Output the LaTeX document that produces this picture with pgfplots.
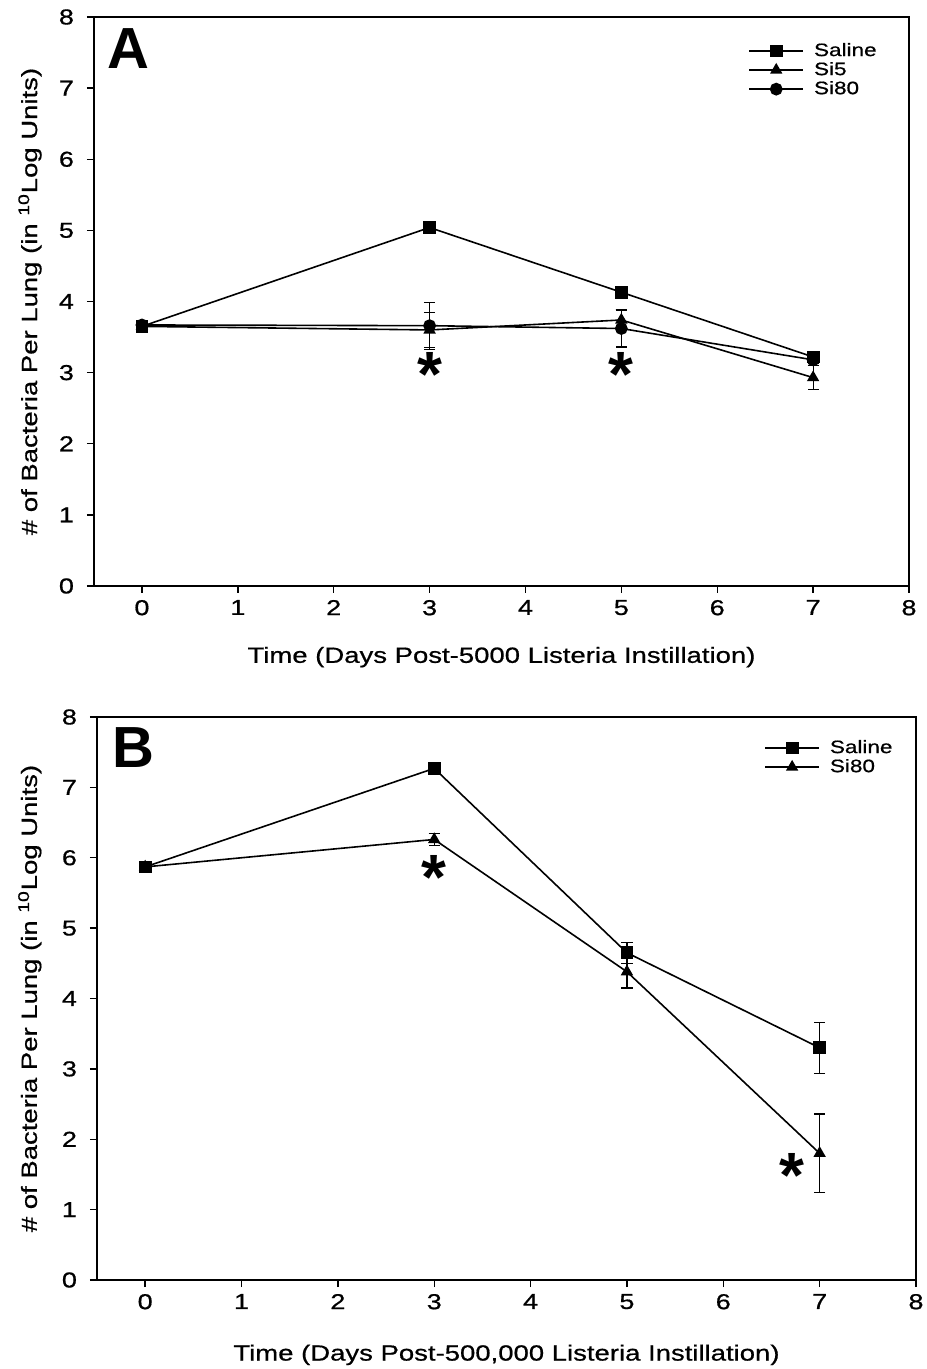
\documentclass[border=0pt]{standalone}
\usepackage{pgfplots}
\pgfplotsset{compat=1.18}
\usepackage{fontspec}
\setmainfont{Liberation Sans}[FakeStretch=1.25, FakeBold=0.7]
\newfontfamily\plainfont{Liberation Sans}

\tikzset{star/.style={font=\plainfont\fontsize{32}{32}\selectfont\bfseries, inner sep=0pt, anchor=center}}
\pgfplotsset{
  panel/.style={
    scale only axis,
    xmin=-0.5, xmax=8, ymin=0, ymax=8,
    xtick={0,...,8}, ytick={0,...,8},
    tick pos=left, tick align=outside, major tick length=3.5pt,
    axis line style={line width=0.8pt},
    every tick/.style={black, line width=0.7pt},
    /pgf/number format/assume math mode=true,
    ticklabel style={font=\fontsize{10.8}{12}\selectfont},
    yticklabel style={xshift=-3pt},
    legend style={draw=none, fill=none, font=\fontsize{9}{10}\selectfont, row sep=-2.5pt, column sep=3pt, cells={anchor=west}},
    legend image code/.code={\draw[##1, mark repeat=2, mark phase=2] plot coordinates {(0pt,0pt) (13.5pt,0pt) (27pt,0pt)};},
  },
  ser/.style={black, line width=0.8pt, mark=#1, mark size=2.8pt, mark options={solid, fill=black},
    error bars/y dir=both, error bars/y explicit,
    error bars/error mark options={rotate=90, mark size=2.8pt, black, line width=0.6pt},
    error bars/error bar style={line width=0.6pt, black}},
}

\begin{document}
\begin{tikzpicture}
\useasboundingbox (-47pt,-391.5pt) rectangle (416pt,293pt);

% Panel A
\begin{axis}[panel, at={(0pt,0pt)}, anchor=south west,
  width=407.5pt, height=284.5pt,
  xlabel={Time (Days Post-5000 Listeria Instillation)},
  ylabel={\# of Bacteria Per Lung (in \textsuperscript{10}Log Units)},
  every axis x label/.style={at={(axis description cs:0.5,-0.125)}, anchor=center, font=\fontsize{11}{13}\selectfont},
  every axis y label/.style={at={(axis description cs:-0.0785,0.5)}, rotate=90, anchor=center, font=\fontsize{11}{13}\selectfont},
  legend style={at={(axis description cs:0.973,0.969)}, anchor=north east},
]
\addplot[ser=square*] coordinates {
  (0,3.65) +- (0,0.04)
  (3,5.04) +- (0,0.04)
  (5,4.13) +- (0,0.04)
  (7,3.22) +- (0,0.04)
};
\addlegendentry{Saline}
\addplot[ser=triangle*] coordinates {
  (0,3.65) +- (0,0.04)
  (3,3.60) +- (0,0.25)
  (5,3.74) +- (0,0.14)
  (7,2.93) +- (0,0.17)
};
\addlegendentry{Si5}
\addplot[ser=*] coordinates {
  (0,3.67) +- (0,0.04)
  (3,3.66) +- (0,0.33)
  (5,3.62) +- (0,0.26)
  (7,3.18) +- (0,0.05)
};
\addlegendentry{Si80}
\node[font=\plainfont\fontsize{29}{29}\selectfont\bfseries] at (axis description cs:0.042,0.944) {A};
\node[star] at (axis cs:3,2.97) {*};
\node[star] at (axis cs:5,2.98) {*};
\end{axis}

% Panel B
\begin{axis}[panel, at={(1.5pt,-347pt)}, anchor=south west,
  width=409.5pt, height=281.5pt,
  xlabel={Time (Days Post-500,000 Listeria Instillation)},
  ylabel={\# of Bacteria Per Lung (in \textsuperscript{10}Log Units)},
  every axis x label/.style={at={(axis description cs:0.5,-0.133)}, anchor=center, font=\fontsize{11}{13}\selectfont},
  every axis y label/.style={at={(axis description cs:-0.082,0.5)}, rotate=90, anchor=center, font=\fontsize{11}{13}\selectfont},
  legend style={at={(axis description cs:0.984,0.974)}, anchor=north east},
]
\addplot[ser=square*] coordinates {
  (0,5.87) +- (0,0.05)
  (3,7.27) +- (0,0.08)
  (5,4.65) +- (0,0.15)
  (7,3.30) +- (0,0.36)
};
\addlegendentry{Saline}
\addplot[ser=triangle*] coordinates {
  (0,5.87) +- (0,0.05)
  (3,6.26) +- (0,0.09)
  (5,4.38) +- (0,0.23)
  (7,1.80) +- (0,0.56)
};
\addlegendentry{Si80}
\node[font=\plainfont\fontsize{29}{29}\selectfont\bfseries] at (axis description cs:0.044,0.945) {B};
\node[star] at (axis cs:3,5.72) {*};
\node[star] at (axis cs:6.71,1.48) {*};
\end{axis}
\end{tikzpicture}
\end{document}
